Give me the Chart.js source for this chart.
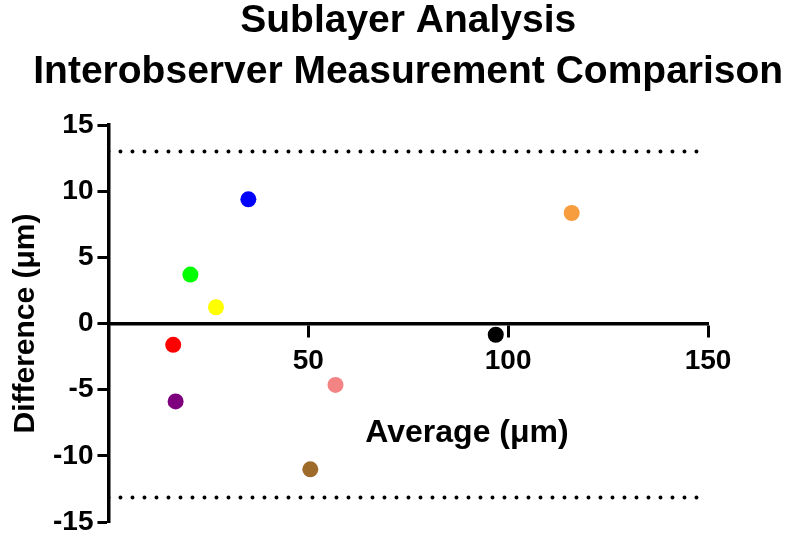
<!DOCTYPE html>
<html>
<head>
<meta charset="utf-8">
<script src="https://cdn.jsdelivr.net/npm/chart.js@4/dist/chart.umd.min.js"></script>
<style>
    html, body { margin: 0; padding: 0; background: #fff; }
    #wrap { width: 789px; height: 543px; }
</style>
</head>
<body>
<div id="wrap"><canvas id="chart"></canvas></div>
<script>
// Bland-Altman style data
const averages    = [35.0, 115.9, 20.5, 26.9, 16.2, 96.9, 56.8, 16.8, 50.5];
const differences = [9.38, 8.35, 3.70, 1.23, -1.61, -0.85, -4.64, -5.89, -11.02];
const pointColors = ['#0000FF', '#F89D3E', '#00FF00', '#FFFF00', '#FF0000', '#000000', '#F48484', '#7F007F', '#9E6B2A'];
const upperLimit  = 12.99;
const lowerLimit  = -13.14;
const xRange      = [0, 150];
const yRange      = [-15, 15];
const titleLines  = ['Sublayer Analysis', 'Interobserver Measurement Comparison'];
const xTitle      = 'Average (\u03BCm)';
const yTitle      = 'Difference (\u03BCm)';

const FONT = '"Liberation Sans", Arial, sans-serif';

const points = averages.map((x, i) => ({ x, y: differences[i] }));
const limitLine = v => xRange.map(x => ({ x, y: v }));

// Title is centred over the plot area (not the canvas), and the x axis sits
// at y = 0, so both texts are placed by hand.
const textPlugin = {
    id: 'texts',
    afterDraw(chart) {
        const { ctx, chartArea, scales } = chart;
        const mid = (chartArea.left + chartArea.right) / 2;
        ctx.save();
        ctx.fillStyle = '#000';
        ctx.textAlign = 'center';
        ctx.textBaseline = 'alphabetic';
        ctx.font = `bold 39px ${FONT}`;
        titleLines.forEach((line, i) => ctx.fillText(line, mid, 32 + i * 51));

        ctx.font = `bold 32px ${FONT}`;
        ctx.textBaseline = 'middle';
        const x = chartArea.left + (chartArea.right - chartArea.left) * 0.598;
        const y = scales.y.getPixelForValue(0) + 110;
        ctx.fillText(xTitle, x, y);
        ctx.restore();
    }
};

const lineStyle = {
    type: 'line',
    borderColor: '#000',
    borderWidth: 4,
    borderDash: [0, 12],
    borderCapStyle: 'round',
    pointRadius: 0,
    fill: false
};

new Chart('chart', {
    type: 'scatter',
    data: {
        datasets: [
            { ...lineStyle, data: limitLine(upperLimit) },
            { ...lineStyle, data: limitLine(lowerLimit) },
            {
                data: points,
                pointRadius: 8,
                pointBorderWidth: 0,
                pointBackgroundColor: pointColors,
                pointBorderColor: pointColors
            }
        ]
    },
    options: {
        responsive: true,
        maintainAspectRatio: false,
        animation: false,
        layout: { padding: { top: 125, right: 81, bottom: 21, left: 0 } },
        plugins: {
            legend: { display: false },
            tooltip: { enabled: false },
            title: { display: false }
        },
        scales: {
            x: {
                type: 'linear',
                position: { y: 0 },
                min: xRange[0],
                max: xRange[1],
                ticks: {
                    stepSize: 50,
                    color: '#000',
                    padding: 9,
                    font: { family: FONT, size: 28, weight: 'bold' },
                    callback: v => v === 0 ? '' : v
                },
                grid: { drawOnChartArea: false, tickLength: 12, tickWidth: 3, tickColor: '#000' },
                border: { display: true, color: '#000', width: 3.5 }
            },
            y: {
                type: 'linear',
                position: 'left',
                min: yRange[0],
                max: yRange[1],
                ticks: {
                    stepSize: 5,
                    color: '#000',
                    padding: 4,
                    font: { family: FONT, size: 28, weight: 'bold' }
                },
                grid: { drawOnChartArea: false, tickLength: 11, tickWidth: 3, tickColor: '#000' },
                border: { display: true, color: '#000', width: 3.5 },
                title: {
                    display: true,
                    text: yTitle,
                    color: '#000',
                    font: { family: FONT, size: 30, weight: 'bold' },
                    padding: { top: 8, bottom: 5 }
                }
            }
        }
    },
    plugins: [textPlugin]
});
</script>
</body>
</html>
